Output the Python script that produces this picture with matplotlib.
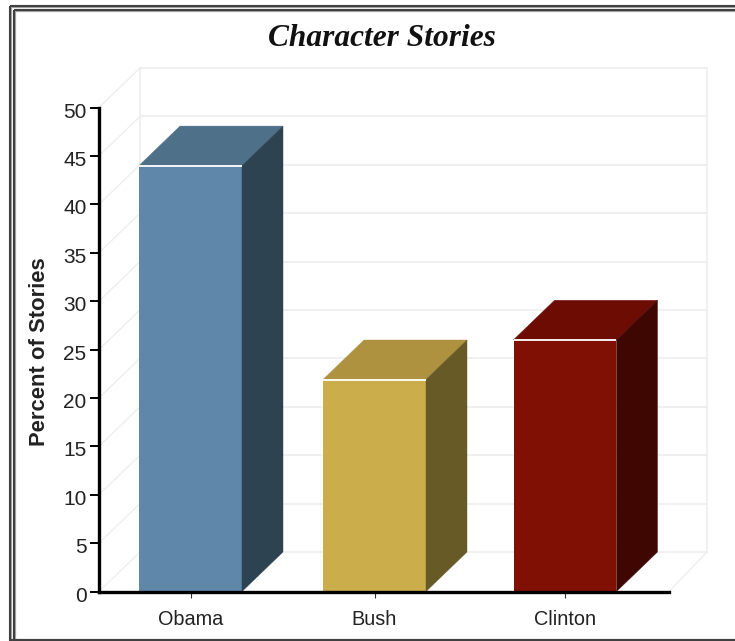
import matplotlib
matplotlib.use('Agg')
import matplotlib.pyplot as plt
from matplotlib.patches import Polygon, Rectangle
from matplotlib.transforms import ScaledTranslation

categories = ['Obama', 'Bush', 'Clinton']
values = [44, 21.9, 26]
bar_centers = [0.4816, 1.45, 2.4526]
yticks = list(range(0, 55, 5))

front_colors = ['#5f87a9', '#ccad4c', '#800f04']
top_colors = ['#4f7089', '#ae9240', '#6c0c02']
side_colors = ['#2e4352', '#675a26', '#3f0701']

W, H = 735, 641
bar_width = 0.542
# depth of the 3D box, in data units
dx = 41 / 190
dy = 39.5 / 484 * 50
wall_right = 3.2
wall = '#eeeeee'

plt.rcParams['font.family'] = ['Liberation Sans', 'DejaVu Sans']

fig = plt.figure(figsize=(W / 100, H / 100), dpi=100, facecolor='white')

# double frame round the chart, in pixels
frame = fig.add_axes([0, 0, 1, 1], zorder=0)
frame.set_xlim(0, W)
frame.set_ylim(H, 0)
frame.axis('off')
for left, top in [(10, 6), (14, 10)]:
    for lw, col in [(3.2, '#a0a0a0'), (2, '#404040')]:
        frame.add_patch(Rectangle((left, top), W + 20, H - top - 1, fill=False,
                                  lw=lw * 0.72, ec=col, joinstyle='miter'))

ax = fig.add_axes([99 / W, (H - 591.5) / H, 570 / W, 484 / H], zorder=1)
ax.patch.set_alpha(0)
ax.set_xlim(0, 3)
ax.set_ylim(0, 50)

# back wall and floor lines
for v in yticks:
    ax.plot([dx, wall_right], [v + dy, v + dy], color=wall, lw=1.2, clip_on=False, zorder=1)
    ax.plot([0, dx], [v, v + dy], color=wall, lw=1.0, clip_on=False, zorder=1)
ax.plot([dx, dx], [dy, 50 + dy], color=wall, lw=1.2, clip_on=False, zorder=1)
ax.plot([wall_right, wall_right], [dy, 50 + dy], color=wall, lw=1.2, clip_on=False, zorder=1)
ax.plot([3, wall_right], [0, dy], color=wall, lw=1.0, clip_on=False, zorder=1)

# bars: front face, then top and side
ax.bar(bar_centers, values, width=bar_width, color=front_colors, zorder=3)
for c, v, top, side in zip(bar_centers, values, top_colors, side_colors):
    x0, x1 = c - bar_width / 2, c + bar_width / 2
    ax.add_patch(Polygon([(x0, v), (x1, v), (x1 + dx, v + dy), (x0 + dx, v + dy)],
                         fc=top, ec=top, lw=0.3, zorder=3, clip_on=False))
    ax.add_patch(Polygon([(x1, 0), (x1 + dx, dy), (x1 + dx, v + dy), (x1, v)],
                         fc=side, ec=side, lw=0.3, zorder=3, clip_on=False))
    ax.plot([x0, x1], [v, v], color='white', lw=1.3, solid_capstyle='butt', zorder=4)

for s in ['top', 'right']:
    ax.spines[s].set_visible(False)
for s in ['left', 'bottom']:
    ax.spines[s].set_linewidth(2.4)
    ax.spines[s].set_zorder(5)

ax.set_yticks(yticks)
ax.set_xticks(bar_centers)
ax.set_xticklabels(categories)
ax.tick_params(axis='y', length=6.5, width=1.4, pad=2.5, labelsize=15, labelcolor='#222222')
ax.tick_params(axis='x', length=4.5, width=0.8, pad=8.5, labelsize=14.3, labelcolor='#222222',
               color='#333333')
ax.set_ylabel('Percent of Stories', fontsize=15.8, fontweight='bold', labelpad=0, color='#222222')
ax.yaxis.set_label_coords(-0.086, 0.495)

# number labels sit a little below their ticks
nudge = ScaledTranslation(0, -1.8 / 72, fig.dpi_scale_trans)
for label in ax.get_yticklabels():
    label.set_transform(label.get_transform() + nudge)

fig.text(381.5 / W, 1 - 38 / H, 'Character Stories', ha='center', va='center',
         family=['Liberation Serif', 'DejaVu Serif'], style='italic', fontweight='bold',
         fontsize=22.6, color='#111111')

fig.savefig('out.png', dpi=100)
